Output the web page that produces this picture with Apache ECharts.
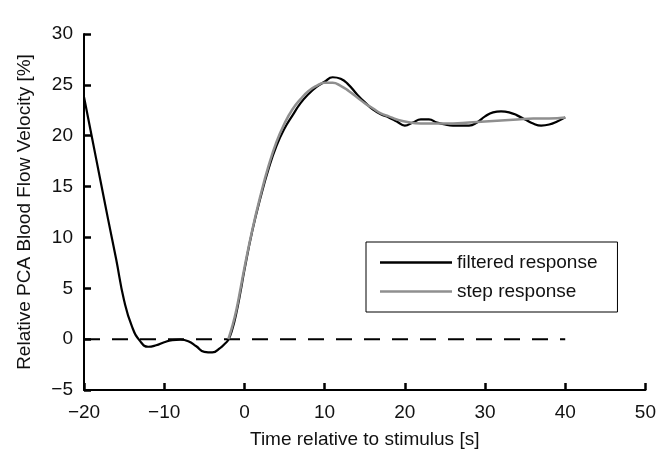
<!DOCTYPE html>
<html>
<head>
<meta charset="utf-8">
<script src="https://cdn.jsdelivr.net/npm/echarts@6/dist/echarts.min.js"></script>
<style>
html,body{margin:0;padding:0;background:#fff;}
#chart{width:659px;height:455px;}
</style>
</head>
<body>
<div id="chart"></div>
<script>
// Time axis values [s]
const filteredTime = [-20,-19,-18,-17,-16,-15,-14,-13,-12,-11,-10,-9,-8,-7,-6,-5,-4,-3,-2.5,-2,-1.5,-1,-0.5,0,1,2,3,4,5,6,7,8,9,10,11,12,13,14,15,16,17,18,19,20,21,22,23,24,25,26,27,28,29,30,31,32,33,34,35,36,37,38,39,40];
const filteredValues = [23.8,19.8,15.8,11.8,7.9,3.8,1.2,-0.2,-0.75,-0.6,-0.3,-0.1,-0.05,-0.2,-0.7,-1.25,-1.3,-0.85,-0.5,-0.05,1.0,2.6,4.6,6.8,10.7,13.9,16.7,19.0,20.7,22.0,23.2,24.1,24.8,25.3,25.75,25.6,25.0,24.1,23.3,22.6,22.1,21.8,21.4,21.0,21.3,21.6,21.6,21.3,21.1,21.0,21.0,21.0,21.3,21.9,22.3,22.4,22.3,22.0,21.6,21.2,21.0,21.1,21.4,21.8];
const stepTime = [-2,-1.5,-1,-0.5,0,1,2,3,4,5,6,7,8,9,10,11,12,13,14,15,16,17,18,19,20,22,24,26,28,30,32,34,36,38,40];
const stepValues = [0,1.3,2.9,4.9,7.0,10.8,14.1,17.0,19.4,21.2,22.6,23.6,24.4,24.9,25.2,25.2,24.9,24.4,23.8,23.2,22.7,22.2,21.9,21.6,21.4,21.2,21.2,21.2,21.3,21.4,21.5,21.6,21.7,21.7,21.8];
const baselineTime = [-20, 40];
const baselineValues = [0, 0];
const xTicks = [-20,-10,0,10,20,30,40,50];
const yTicks = [-5,0,5,10,15,20,25,30];
const seriesNames = ['filtered response', 'step response'];
const xTitle = 'Time relative to stimulus [s]';
const yTitle = 'Relative PCA Blood Flow Velocity [%]';

const zip = (xs, ys) => xs.map((x, i) => [x, ys[i]]);
const FONT = 'Liberation Sans, Arial, sans-serif';
const minusFmt = v => (v < 0 ? '\u2212' + Math.abs(v) : String(v));
const xMin = xTicks[0], xMax = xTicks[xTicks.length - 1];
const yMin = yTicks[0], yMax = yTicks[yTicks.length - 1];
const tickStyle = {show: true, inside: true, length: 7, lineStyle: {color: '#000', width: 2.5}};

const chart = echarts.init(document.getElementById('chart'), null, {renderer: 'canvas'});
chart.setOption({
  animation: false,
  backgroundColor: '#fff',
  grid: {left: 84, top: 34, right: 13, bottom: 65, containLabel: false},
  xAxis: {
    type: 'value', min: xMin, max: xMax, interval: 10,
    name: xTitle, nameLocation: 'middle', nameGap: 40,
    nameTextStyle: {fontFamily: FONT, fontSize: 19, color: '#111'},
    axisLine: {show: true, onZero: false, lineStyle: {color: '#000', width: 2}},
    axisTick: tickStyle,
    axisLabel: {fontFamily: FONT, fontSize: 19, color: '#111', margin: 13, formatter: minusFmt},
    splitLine: {show: false}
  },
  yAxis: {
    type: 'value', min: yMin, max: yMax, interval: 5,
    name: yTitle, nameLocation: 'middle', nameGap: 50,
    nameTextStyle: {fontFamily: FONT, fontSize: 19, color: '#111'},
    axisLine: {show: true, onZero: false, lineStyle: {color: '#000', width: 2}},
    axisTick: tickStyle,
    axisLabel: {fontFamily: FONT, fontSize: 19, color: '#111', margin: 11, formatter: minusFmt},
    splitLine: {show: false}
  },
  legend: {
    data: seriesNames,
    orient: 'vertical',
    left: 366, top: 242,
    padding: [11, 20, 11, 14],
    icon: 'rect',
    itemWidth: 72, itemHeight: 2.5, itemGap: 10,
    borderColor: '#000', borderWidth: 1,
    textStyle: {fontFamily: FONT, fontSize: 19, color: '#111'}
  },
  series: [
    {
      name: 'baseline', type: 'line', data: zip(baselineTime, baselineValues),
      showSymbol: false, symbol: 'none', silent: true,
      lineStyle: {color: '#000', width: 2, type: [16, 12]}
    },
    {
      name: seriesNames[0], type: 'line', data: zip(filteredTime, filteredValues),
      smooth: 0.5, symbol: 'none', showSymbol: false,
      lineStyle: {color: '#000', width: 2.2},
      itemStyle: {color: '#000'}
    },
    {
      name: seriesNames[1], type: 'line', data: zip(stepTime, stepValues),
      smooth: 0.5, symbol: 'none', showSymbol: false,
      lineStyle: {color: '#8f8f8f', width: 2.5},
      itemStyle: {color: '#8f8f8f'}
    }
  ]
});
</script>
</body>
</html>
